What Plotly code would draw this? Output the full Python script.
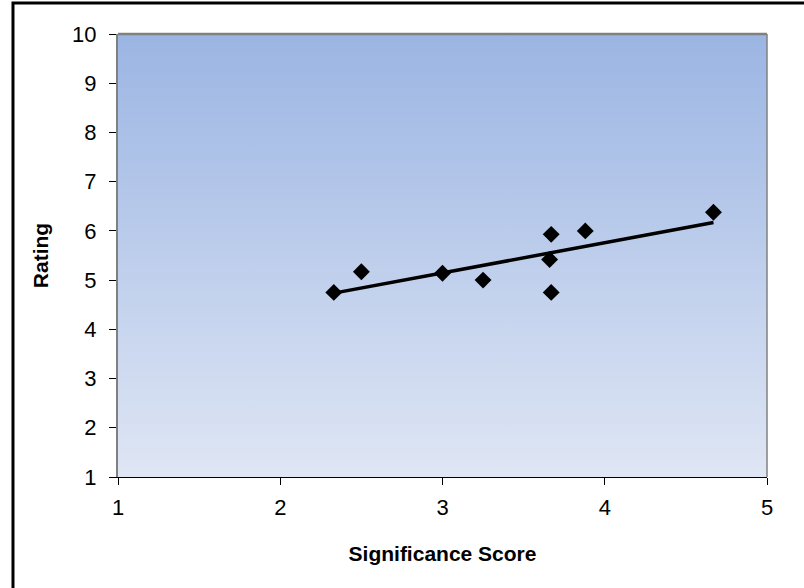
import base64
import numpy as np
import plotly.graph_objects as go

# Significance score vs. rating for each item
significance = [2.33, 2.5, 3.0, 3.25, 3.67, 3.66, 3.67, 3.88, 4.67]
rating = [4.75, 5.17, 5.14, 5.0, 5.93, 5.42, 4.75, 6.0, 6.38]

x_ticks = [1, 2, 3, 4, 5]
y_ticks = [1, 2, 3, 4, 5, 6, 7, 8, 9, 10]

# Least-squares trend line over the span of the data
slope, intercept = np.polyfit(significance, rating, 1)
trend_x = [min(significance), max(significance)]
trend_y = [slope * v + intercept for v in trend_x]

fig = go.Figure()

fig.add_trace(go.Scatter(
    x=trend_x, y=trend_y, mode="lines",
    line=dict(color="black", width=3.5),
    hoverinfo="skip", showlegend=False,
))
fig.add_trace(go.Scatter(
    x=significance, y=rating, mode="markers",
    marker=dict(symbol="diamond", size=13, color="black"),
    showlegend=False,
))

# Vertical blue gradient for the plot background
svg = (
    '<svg xmlns="http://www.w3.org/2000/svg" width="100" height="100" preserveAspectRatio="none">'
    '<defs><linearGradient id="g" x1="0" y1="0" x2="0" y2="1">'
    '<stop offset="0" stop-color="#9bb5e3"/>'
    '<stop offset="1" stop-color="#dfe6f4"/>'
    '</linearGradient></defs>'
    '<rect width="100" height="100" fill="url(#g)"/></svg>'
)
uri = "data:image/svg+xml;base64," + base64.b64encode(svg.encode()).decode()
fig.add_layout_image(dict(
    source=uri, xref="x", yref="y", x=1, y=10, sizex=4, sizey=9,
    sizing="stretch", layer="below", xanchor="left", yanchor="top",
))

font_family = "Liberation Sans, Arial, sans-serif"

fig.update_layout(
    width=804, height=588,
    margin=dict(l=118, r=37, t=34, b=111),
    paper_bgcolor="white", plot_bgcolor="rgba(0,0,0,0)",
    font=dict(family=font_family, color="black", size=22),
    xaxis=dict(
        range=[1, 5], tickvals=x_ticks, ticks="outside", ticklen=7,
        tickcolor="black", tickwidth=1, showgrid=False, zeroline=False,
        showline=True, linecolor="black", linewidth=1,
        tickfont=dict(size=22), ticklabelstandoff=4,
        title=dict(text="<b>Significance Score</b>", font=dict(size=21), standoff=26),
    ),
    yaxis=dict(
        range=[1, 10], tickvals=y_ticks, ticks="outside", ticklen=7,
        tickcolor="black", tickwidth=1, showgrid=False, zeroline=False,
        showline=True, linecolor="#808080", linewidth=2,
        tickfont=dict(size=22), ticklabelstandoff=8,
        title=dict(text="<b>Rating</b>", font=dict(size=21), standoff=18),
    ),
    shapes=[
        # gray top and right edges of the plot area
        dict(type="line", xref="paper", yref="paper", x0=0, x1=1, y0=1, y1=1,
             line=dict(color="#808080", width=2.5)),
        dict(type="line", xref="paper", yref="paper", x0=1, x1=1, y0=0, y1=1,
             line=dict(color="#808080", width=1.5)),
        # outer chart frame
        dict(type="rect", xref="paper", yref="paper",
             x0=-0.1618, x1=1.2, y0=-0.4, y1=1.07,
             line=dict(color="black", width=3), layer="above"),
    ],
)

fig.write_html("out.html")
